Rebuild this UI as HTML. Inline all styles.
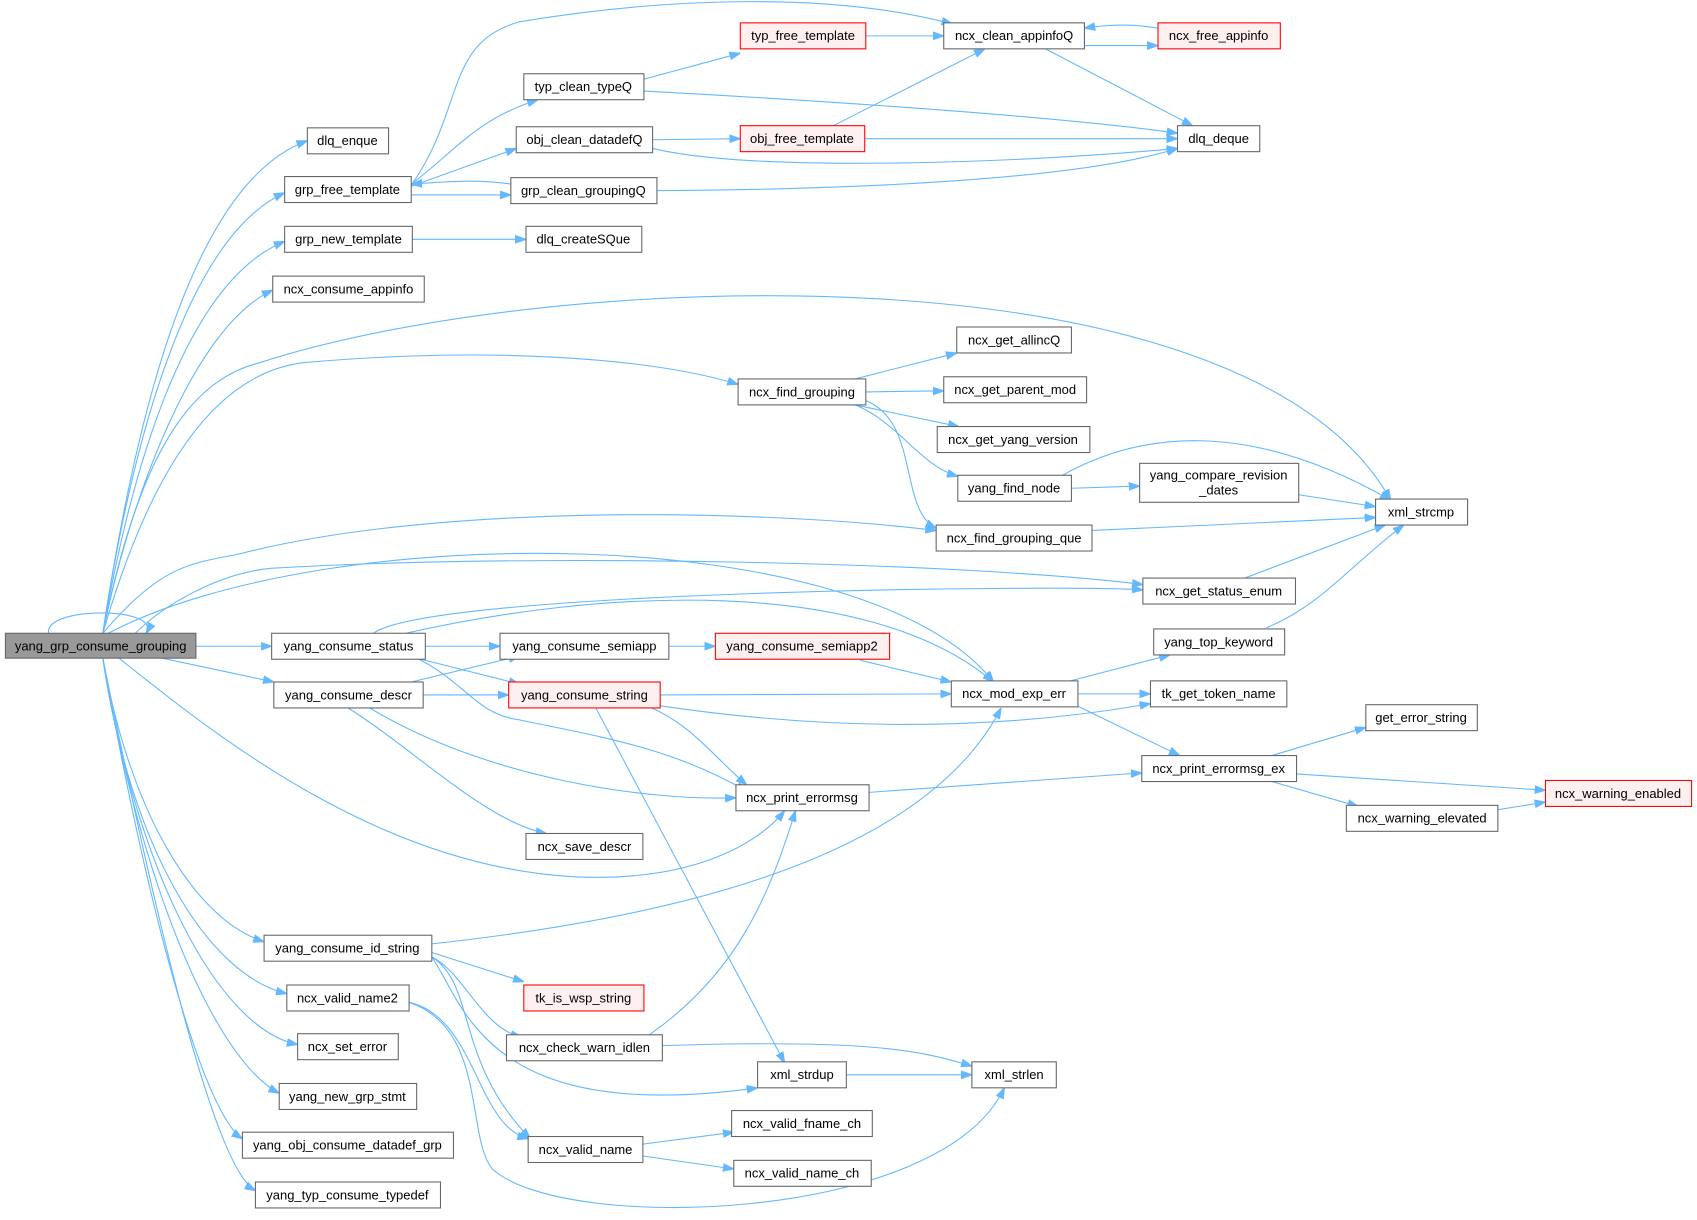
<!DOCTYPE html>
<html><head><meta charset="utf-8"><style>
html,body{margin:0;padding:0;background:#fff}
svg{display:block}
text{font-family:"Liberation Sans",Arial,sans-serif;font-size:12px;fill:#000;text-anchor:middle}
.n{fill:#fff;stroke:#666;stroke-width:1}
.r{fill:#fff0f0;stroke:#f00;stroke-width:1}
.m{fill:#999;stroke:#666;stroke-width:1}
path{fill:none;stroke:#63b8ff;stroke-width:1;marker-end:url(#a)}
</style></head><body>
<svg width="1697" height="1220" viewBox="0 0 1568 1127" xmlns="http://www.w3.org/2000/svg">
<defs><marker id="a" viewBox="0 0 10 10" refX="10" refY="5" markerWidth="10" markerHeight="10" markerUnits="userSpaceOnUse" orient="auto"><path d="M0,1.5L10,5L0,8.5z" style="fill:#63b8ff;stroke:#63b8ff;marker-end:none"/></marker></defs>

<path d="M45,585 C40,560 150,560 135,585"/>
<path d="M95,585 C120,420 170,170 284,130"/>
<path d="M95,585 C120,420 170,220 263,178"/>
<path d="M95,585 C120,440 170,260 263,223"/>
<path d="M95,585 C120,460 180,300 252,268"/>
<path d="M95,585 C130,410 180,350 240,335 C500,250 1150,220 1285,462"/>
<path d="M95,585 C140,430 200,345 280,335 C450,320 600,330 682,355"/>
<path d="M95,585 C150,520 180,520 220,512 C400,465 700,470 865,490"/>
<path d="M100,585 C300,480 800,480 918,630"/>
<path d="M125,585 C150,560 200,530 250,525 C500,510 900,520 1056,540"/>
<path d="M181,597 L251,597"/>
<path d="M150,608 L253,630"/>
<path d="M110,608 C200,680 350,800 530,810 C640,815 700,780 725,749"/>
<path d="M95,608 C120,750 180,850 244,870"/>
<path d="M95,608 C120,780 190,900 265,918"/>
<path d="M95,608 C125,800 200,950 275,965"/>
<path d="M95,608 C130,820 200,980 258,1010"/>
<path d="M95,608 C140,860 190,1030 224,1052"/>
<path d="M95,608 C150,880 200,1080 236,1100"/>

<path d="M380,171 C430,100 410,40 480,20 C600,0 760,-10 880,22"/>
<path d="M380,170 C420,140 440,110 497,92"/>
<path d="M380,172 L477,137"/>
<path d="M380,180 L472,180"/>
<path d="M472,170 C440,165 410,168 380,170"/>
<path d="M381,221 L486,221"/>
<path d="M595,73 L684,49"/>
<path d="M595,84 C800,95 1000,110 1088,123"/>
<path d="M603,129 L684,128"/>
<path d="M603,137 C700,160 950,150 1088,137"/>
<path d="M607,176 C800,175 1000,165 1088,137"/>
<path d="M800,33 L872,33"/>
<path d="M770,116 L910,45"/>
<path d="M799,128 L1088,128"/>
<path d="M966,45 L1102,116"/>
<path d="M1002,42 L1070,42"/>
<path d="M1070,26 C1050,22 1025,22 1002,26"/>

<path d="M790,350 L884,326"/>
<path d="M800,362 L872,361"/>
<path d="M790,374 L886,394"/>
<path d="M790,374 C830,390 850,430 885,440"/>
<path d="M800,370 C850,390 830,470 865,488"/>
<path d="M990,451 L1053,449"/>
<path d="M980,440 C1050,400 1150,385 1285,462"/>
<path d="M1200,457 L1271,468"/>
<path d="M1009,490 L1271,478"/>
<path d="M1150,534 L1280,485"/>
<path d="M1170,580 C1220,560 1250,520 1297,485"/>

<path d="M345,585 C400,545 1000,540 1056,545"/>
<path d="M375,585 C550,545 800,530 918,630"/>
<path d="M393,597 L462,597"/>
<path d="M385,608 L480,632"/>
<path d="M385,608 C430,630 440,660 480,665 C550,680 620,690 690,731"/>
<path d="M380,630 L480,606"/>
<path d="M391,642 L470,642"/>
<path d="M320,653 C380,690 450,760 505,770"/>
<path d="M340,653 C450,720 600,740 680,737"/>
<path d="M618,597 L661,597"/>
<path d="M795,610 L879,630"/>
<path d="M610,642 L879,641"/>
<path d="M610,652 C800,680 950,670 1063,650"/>
<path d="M600,653 C640,670 660,700 690,725"/>
<path d="M550,653 L725,982"/>
<path d="M996,641 L1063,641"/>
<path d="M985,630 L1081,605"/>
<path d="M995,652 L1090,698"/>
<path d="M803,732 L1055,714"/>
<path d="M1175,698 L1262,672"/>
<path d="M1198,715 L1428,730"/>
<path d="M1175,722 L1255,745"/>
<path d="M1384,748 L1428,741"/>

<path d="M399,872 C600,850 850,800 925,654"/>
<path d="M399,880 L484,907"/>
<path d="M399,884 C430,900 445,950 482,958"/>
<path d="M399,884 C440,910 420,980 490,1052"/>
<path d="M399,884 C430,930 450,1040 700,1005"/>
<path d="M600,956 C680,900 710,830 735,749"/>
<path d="M612,966 C800,960 850,970 898,985"/>
<path d="M378,926 C440,940 440,1040 488,1052"/>
<path d="M378,926 C450,950 430,1050 455,1080 C520,1140 870,1130 928,1005"/>
<path d="M782,993 L898,993"/>
<path d="M594,1057 L678,1046"/>
<path d="M594,1068 L678,1080"/>

<rect class="m" x="5" y="585" width="176" height="23"/><text x="93" y="601">yang_grp_consume_grouping</text>
<rect class="n" x="284" y="118" width="75" height="24"/><text x="321" y="134">dlq_enque</text>
<rect class="n" x="263" y="163" width="117" height="24"/><text x="321" y="179">grp_free_template</text>
<rect class="n" x="263" y="209" width="118" height="24"/><text x="322" y="225">grp_new_template</text>
<rect class="n" x="252" y="255" width="140" height="24"/><text x="322" y="271">ncx_consume_appinfo</text>
<rect class="n" x="251" y="585" width="142" height="24"/><text x="322" y="601">yang_consume_status</text>
<rect class="n" x="253" y="630" width="138" height="24"/><text x="322" y="646">yang_consume_descr</text>
<rect class="n" x="244" y="864" width="155" height="24"/><text x="321" y="880">yang_consume_id_string</text>
<rect class="n" x="265" y="910" width="113" height="24"/><text x="321" y="926">ncx_valid_name2</text>
<rect class="n" x="275" y="955" width="93" height="24"/><text x="321" y="971">ncx_set_error</text>
<rect class="n" x="258" y="1001" width="127" height="24"/><text x="321" y="1017">yang_new_grp_stmt</text>
<rect class="n" x="224" y="1046" width="195" height="24"/><text x="321" y="1062">yang_obj_consume_datadef_grp</text>
<rect class="n" x="236" y="1092" width="171" height="24"/><text x="321" y="1108">yang_typ_consume_typedef</text>
<rect class="n" x="484" y="68" width="111" height="24"/><text x="539" y="84">typ_clean_typeQ</text>
<rect class="n" x="477" y="117" width="126" height="24"/><text x="540" y="133">obj_clean_datadefQ</text>
<rect class="n" x="472" y="164" width="135" height="24"/><text x="539" y="180">grp_clean_groupingQ</text>
<rect class="n" x="486" y="209" width="107" height="24"/><text x="539" y="225">dlq_createSQue</text>
<rect class="r" x="684" y="21" width="116" height="24"/><text x="742" y="37">typ_free_template</text>
<rect class="r" x="684" y="116" width="115" height="24"/><text x="741" y="132">obj_free_template</text>
<rect class="n" x="872" y="21" width="130" height="24"/><text x="937" y="37">ncx_clean_appinfoQ</text>
<rect class="r" x="1070" y="21" width="113" height="24"/><text x="1126" y="37">ncx_free_appinfo</text>
<rect class="n" x="1088" y="116" width="76" height="24"/><text x="1126" y="132">dlq_deque</text>
<rect class="n" x="682" y="350" width="118" height="24"/><text x="741" y="366">ncx_find_grouping</text>
<rect class="n" x="884" y="302" width="106" height="24"/><text x="937" y="318">ncx_get_allincQ</text>
<rect class="n" x="872" y="348" width="132" height="24"/><text x="938" y="364">ncx_get_parent_mod</text>
<rect class="n" x="866" y="394" width="141" height="24"/><text x="936" y="410">ncx_get_yang_version</text>
<rect class="n" x="885" y="439" width="105" height="24"/><text x="937" y="455">yang_find_node</text>
<rect class="n" x="1053" y="428" width="147" height="36"/><text x="1126" y="443">yang_compare_revision</text><text x="1126" y="457">_dates</text>
<rect class="n" x="865" y="485" width="144" height="24"/><text x="937" y="501">ncx_find_grouping_que</text>
<rect class="n" x="1271" y="461" width="85" height="24"/><text x="1313" y="477">xml_strcmp</text>
<rect class="n" x="1056" y="534" width="141" height="24"/><text x="1126" y="550">ncx_get_status_enum</text>
<rect class="n" x="462" y="585" width="156" height="24"/><text x="540" y="601">yang_consume_semiapp</text>
<rect class="r" x="661" y="585" width="161" height="24"/><text x="741" y="601">yang_consume_semiapp2</text>
<rect class="n" x="1066" y="581" width="121" height="24"/><text x="1126" y="597">yang_top_keyword</text>
<rect class="r" x="470" y="630" width="140" height="24"/><text x="540" y="646">yang_consume_string</text>
<rect class="n" x="879" y="629" width="117" height="24"/><text x="937" y="645">ncx_mod_exp_err</text>
<rect class="n" x="1063" y="629" width="126" height="24"/><text x="1126" y="645">tk_get_token_name</text>
<rect class="n" x="1262" y="651" width="103" height="24"/><text x="1313" y="667">get_error_string</text>
<rect class="n" x="1055" y="698" width="143" height="24"/><text x="1126" y="714">ncx_print_errormsg_ex</text>
<rect class="r" x="1428" y="721" width="135" height="24"/><text x="1495" y="737">ncx_warning_enabled</text>
<rect class="n" x="1244" y="744" width="140" height="24"/><text x="1314" y="760">ncx_warning_elevated</text>
<rect class="n" x="680" y="725" width="123" height="24"/><text x="741" y="741">ncx_print_errormsg</text>
<rect class="n" x="486" y="770" width="108" height="24"/><text x="540" y="786">ncx_save_descr</text>
<rect class="r" x="484" y="910" width="111" height="24"/><text x="539" y="926">tk_is_wsp_string</text>
<rect class="n" x="468" y="956" width="144" height="24"/><text x="540" y="972">ncx_check_warn_idlen</text>
<rect class="n" x="700" y="981" width="82" height="24"/><text x="741" y="997">xml_strdup</text>
<rect class="n" x="898" y="981" width="78" height="24"/><text x="937" y="997">xml_strlen</text>
<rect class="n" x="676" y="1026" width="130" height="24"/><text x="741" y="1042">ncx_valid_fname_ch</text>
<rect class="n" x="488" y="1050" width="106" height="24"/><text x="541" y="1066">ncx_valid_name</text>
<rect class="n" x="678" y="1072" width="127" height="24"/><text x="741" y="1088">ncx_valid_name_ch</text>
</svg>
</body></html>
